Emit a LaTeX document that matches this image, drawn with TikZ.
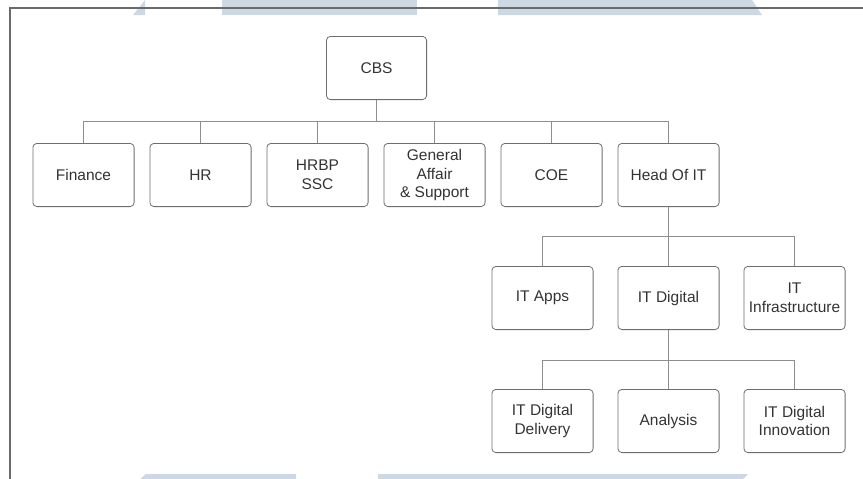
\documentclass[tikz,border=0pt]{standalone}
\usepackage{fontspec}
\setmainfont{Liberation Sans}
\usepackage{xcolor}
\usetikzlibrary{positioning,calc}

\definecolor{boxline}{HTML}{6E6E6E}
\definecolor{linkline}{HTML}{8E8E8E}
\definecolor{frameline}{HTML}{6A6A6A}
\definecolor{boxtext}{HTML}{333333}
\definecolor{wmark}{HTML}{CCD8E3}

\begin{document}
\begin{tikzpicture}[x=1pt, y=1pt, node distance=15pt,
    orgbox/.style={draw=boxline, line width=0.8pt, rectangle, rounded corners=4pt,
        minimum width=101.2pt, minimum height=63.2pt, inner sep=2pt, align=center,
        text=boxtext, font=\fontsize{15.5}{18.8}\selectfont},
    link/.style={draw=linkline, line width=0.8pt}]
    \useasboundingbox (0,0) rectangle (863,-479);

    % watermark strips
    \fill[wmark] (133,-15) -- (145,0) -- (145,-15) -- cycle;
    \fill[wmark] (222,0) rectangle (417,-15);
    \fill[wmark] (498,0) -- (752,0) -- (762,-15) -- (498,-15) -- cycle;
    \fill[wmark] (140,-479) -- (146,-474) -- (296,-474) -- (296,-479) -- cycle;
    \fill[wmark] (378,-474) -- (748,-474) -- (743,-479) -- (378,-479) -- cycle;

    % frame
    \draw[frameline, line width=2pt] (10,-479) -- (10,-8) -- (863,-8);

    \node (cbs) [orgbox, minimum width=100.2pt] at (376.5,-68) {CBS};

    \node (fin) [orgbox] at (83.5,-175) {Finance};
    \node (hr) [orgbox, right=of fin] {HR};
    \node (hrbp) [orgbox, right=of hr] {HRBP\\SSC};
    \node (ga) [orgbox, right=of hrbp] {General\\Affair\\\& Support};
    \node (coe) [orgbox, right=of ga] {COE};
    \node (head) [orgbox, right=of coe] {Head Of IT};

    \node (dig) [orgbox, below=59pt of head] {IT Digital};
    \node (apps) [orgbox, left=24pt of dig] {IT Apps};
    \node (infra) [orgbox, right=24pt of dig] {IT\\Infrastructure};

    \node (anal) [orgbox, below=59pt of dig] {Analysis};
    \node (deliv) [orgbox, below=59pt of apps] {IT Digital\\Delivery};
    \node (innov) [orgbox, below=59pt of infra] {IT Digital\\Innovation};

    \draw[link] (cbs.south) -- ++(0,-21) -| (fin.north);
    \draw[link] (cbs.south) -- ++(0,-21) -| (hr.north);
    \draw[link] (cbs.south) -- ++(0,-21) -| (hrbp.north);
    \draw[link] (cbs.south) -- ++(0,-21) -| (ga.north);
    \draw[link] (cbs.south) -- ++(0,-21) -| (coe.north);
    \draw[link] (cbs.south) -- ++(0,-21) -| (head.north);

    \draw[link] (head.south) -- ++(0,-29) -| (apps.north);
    \draw[link] (head.south) -- (dig.north);
    \draw[link] (head.south) -- ++(0,-29) -| (infra.north);

    \draw[link] (dig.south) -- ++(0,-30) -| (deliv.north);
    \draw[link] (dig.south) -- (anal.north);
    \draw[link] (dig.south) -- ++(0,-30) -| (innov.north);
\end{tikzpicture}
\end{document}
